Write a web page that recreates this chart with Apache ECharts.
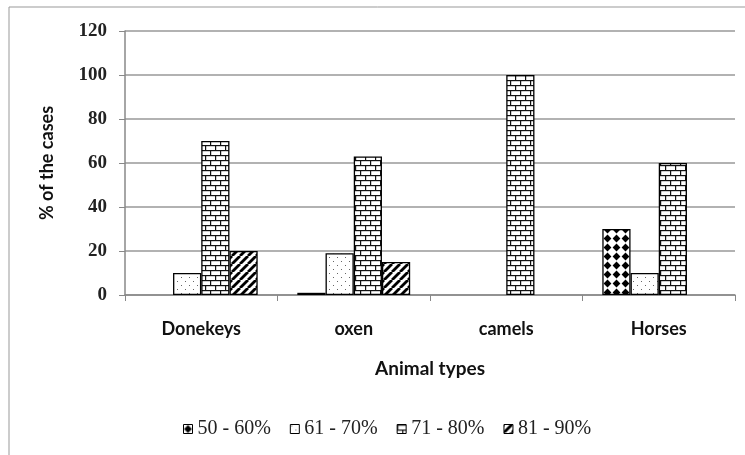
<!DOCTYPE html>
<html><head><meta charset="utf-8">
<script src="https://cdn.jsdelivr.net/npm/echarts@6/dist/echarts.min.js"></script>
<style>html,body{margin:0;padding:0;background:#fff}#c{width:745px;height:455px}</style>
</head><body><div id="c"></div>
<script>
var categories = ['Donekeys', 'oxen', 'camels', 'Horses'];
var seriesNames = ['50 - 60%', '61 - 70%', '71 - 80%', '81 - 90%'];
var s50_60 = [0, 1, 0, 30];
var s61_70 = [10, 19, 0, 10];
var s71_80 = [70, 63, 100, 60];
var s81_90 = [20, 15, 0, 0];
var yTicks = [0, 20, 40, 60, 80, 100, 120];

function mk(w, h, draw) {
  var c = document.createElement('canvas'); c.width = w; c.height = h;
  var g = c.getContext('2d'); g.fillStyle = '#fff'; g.fillRect(0, 0, w, h); draw(g); return c;
}
var patDiamond = mk(9, 9, function (g) {
  g.fillStyle = '#000';
  g.beginPath(); g.moveTo(4.5, 0.6); g.lineTo(8.4, 4.5); g.lineTo(4.5, 8.4); g.lineTo(0.6, 4.5); g.closePath(); g.fill();
});
var patDots = mk(8, 8, function (g) {
  g.fillStyle = '#666'; g.fillRect(1, 1, 1, 1); g.fillRect(5, 5, 1, 1);
});
var patBrick = mk(10, 10, function (g) {
  g.fillStyle = '#111';
  g.fillRect(0, 0, 10, 1.2); g.fillRect(0, 5, 10, 1.2);
  g.fillRect(0, 0, 1.2, 5); g.fillRect(5, 5, 1.2, 5);
});
var patHatch = mk(8, 8, function (g) {
  g.strokeStyle = '#000'; g.lineWidth = 2.8;
  for (var k = -8; k <= 16; k += 8) { g.beginPath(); g.moveTo(k, 8); g.lineTo(k + 8, 0); g.stroke(); }
});
var pats = [patDiamond, patDots, patBrick, patHatch];
var datas = [s50_60, s61_70, s71_80, s81_90];

var chart = echarts.init(document.getElementById('c'));
var series = seriesNames.map(function (n, i) {
  return {
    name: n, type: 'bar', barGap: '0%', barCategoryGap: '26%',
    data: datas[i].map(function (v) { return v === 0 ? { value: v, itemStyle: { borderWidth: 0 } } : v; }),
    itemStyle: { color: { image: pats[i], repeat: 'repeat' }, borderColor: '#000', borderWidth: 1.3 }
  };
});
chart.setOption({
  animation: false,
  backgroundColor: '#fff',
  grid: { left: 125, right: 10, top: 31, bottom: 160 },
  graphic: [{ type: 'rect', shape: { x: 9, y: 7, width: 760, height: 470 }, style: { fill: 'none', stroke: '#999', lineWidth: 1 }, silent: true, z: -1 }],
  legend: {
    data: seriesNames, top: 414, left: 178, icon: 'rect', itemWidth: 9, itemHeight: 9, itemGap: 19,
    itemStyle: { borderColor: '#000', borderWidth: 1 },
    textStyle: { fontFamily: 'Liberation Serif', fontSize: 20, color: '#222' }
  },
  xAxis: {
    type: 'category', data: categories,
    name: 'Animal types', nameLocation: 'middle', nameGap: 64,
    nameTextStyle: { fontFamily: 'Lato', fontWeight: 'bold', fontSize: 19, color: '#111' },
    axisLine: { lineStyle: { color: '#888', width: 1.5 } },
    axisTick: { show: true, length: 6, lineStyle: { color: '#888' } },
    axisLabel: { margin: 25, fontFamily: 'Lato', fontWeight: 'bold', fontSize: 18, color: '#111' }
  },
  yAxis: {
    type: 'value', min: 0, max: 120, interval: 20,
    name: '% of the cases', nameLocation: 'middle', nameGap: 69, nameRotate: 90,
    nameTextStyle: { fontFamily: 'Lato', fontWeight: 'bold', fontSize: 18, color: '#111' },
    axisLine: { show: true, lineStyle: { color: '#888', width: 1.5 } },
    axisTick: { show: true, length: 6, lineStyle: { color: '#888' } },
    splitLine: { lineStyle: { color: '#999', width: 1.5 } },
    axisLabel: {
      margin: 18, fontFamily: 'Liberation Serif', fontWeight: 'bold', fontSize: 19, color: '#222',
      formatter: function (v) { return yTicks.indexOf(v) >= 0 ? String(v) : ''; }
    }
  },
  series: series
});
</script></body></html>
